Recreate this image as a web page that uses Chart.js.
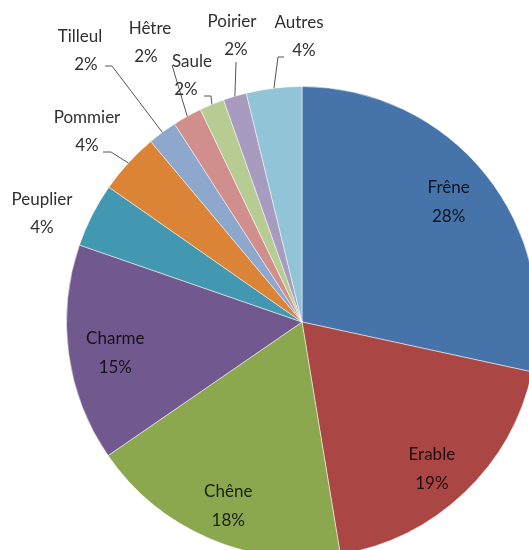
<!DOCTYPE html>
<html>
<head>
<meta charset="utf-8">
<script src="https://cdn.jsdelivr.net/npm/chart.js@4/dist/chart.umd.min.js"></script>
<style>
  html, body { margin: 0; padding: 0; overflow: hidden; background: #fff; }
  #wrap { position: absolute; left: 0; top: 0; width: 560px; height: 580px; }
</style>
</head>
<body>
<div id="wrap"><canvas id="c" width="560" height="580"></canvas></div>
<script>
// essences et parts
const essences = ['Frêne', 'Erable', 'Chêne', 'Charme', 'Peuplier', 'Pommier', 'Tilleul', 'Hêtre', 'Saule', 'Poirier', 'Autres'];
const parts = [28.4, 19.0, 18.0, 14.9, 4.4, 4.2, 2.0, 2.0, 1.7, 1.6, 3.8];
const etiquettes = ['28%', '19%', '18%', '15%', '4%', '4%', '2%', '2%', '2%', '2%', '4%'];
const couleurs = ['#4673aa', '#aa4644', '#8ba84f', '#71588f', '#4198b0', '#db8438',
  '#8ea7cd', '#d08f8d', '#b7cc92', '#a89bc0', '#91c4d6'];

// petits décalages des étiquettes intérieures
const decalage = { 0: -1, 1: 11, 2: 11, 3: 6 };

// étiquettes extérieures : position du texte et départ du trait de rappel
const dehors = {
  4: { tx: 42, ty: 200 },
  5: { tx: 87, ty: 118, line: [[103, 152], [111, 152]] },
  6: { tx: 80, ty: 37, t2x: 86, line: [[105, 66], [112, 66]] },
  7: { tx: 150, ty: 29, t2x: 146, line: [[172, 65]] },
  8: { tx: 192, ty: 62, t2x: 186, t2y: 90, line: [[204, 96], [211, 96]] },
  9: { tx: 232, ty: 22, t2x: 236, line: [[236, 62]] },
  10: { tx: 299, ty: 23, t2x: 304, line: [[284, 57], [278, 57]] },
};

const FONT = '17px Lato, "Open Sans", sans-serif';

const labelsPlugin = {
  id: 'labels',
  afterDatasetsDraw(chart) {
    const ctx = chart.ctx;
    const meta = chart.getDatasetMeta(0);
    ctx.save();
    ctx.font = FONT;
    ctx.textAlign = 'center';
    ctx.textBaseline = 'middle';
    meta.data.forEach((arc, i) => {
      const p = arc.getProps(['x', 'y', 'startAngle', 'endAngle', 'outerRadius'], true);
      const mid = (p.startAngle + p.endAngle) / 2;
      const o = dehors[i];
      if (!o) {
        const r = p.outerRadius * 0.8;
        const cx = p.x + Math.cos(mid) * r;
        const cy = p.y + Math.sin(mid) * r + (decalage[i] || 0);
        ctx.fillStyle = 'rgba(0,0,0,0.82)';
        ctx.fillText(essences[i], cx, cy - 15);
        ctx.fillText(etiquettes[i], cx, cy + 14);
        return;
      }
      ctx.fillStyle = '#303030';
      ctx.fillText(essences[i], o.tx, o.ty);
      ctx.fillText(etiquettes[i], o.t2x || o.tx, o.t2y || o.ty + 28);
      if (o.line) {
        const ex = p.x + Math.cos(mid) * p.outerRadius;
        const ey = p.y + Math.sin(mid) * p.outerRadius;
        ctx.strokeStyle = '#555';
        ctx.lineWidth = 1;
        ctx.beginPath();
        ctx.moveTo(o.line[0][0], o.line[0][1]);
        o.line.slice(1).forEach((pt) => ctx.lineTo(pt[0], pt[1]));
        ctx.lineTo(ex, ey);
        ctx.stroke();
      }
    });
    ctx.restore();
  },
};

new Chart(document.getElementById('c'), {
  type: 'pie',
  data: {
    labels: essences,
    datasets: [{
      data: parts,
      backgroundColor: couleurs,
      borderColor: 'rgba(255,255,255,0.5)',
      borderWidth: 1,
      hoverOffset: 0,
    }],
  },
  options: {
    responsive: false,
    animation: false,
    layout: { padding: { left: 66, right: 22, top: 86, bottom: 22 } },
    plugins: { legend: { display: false }, tooltip: { enabled: false } },
  },
  plugins: [labelsPlugin],
});
</script>
</body>
</html>
